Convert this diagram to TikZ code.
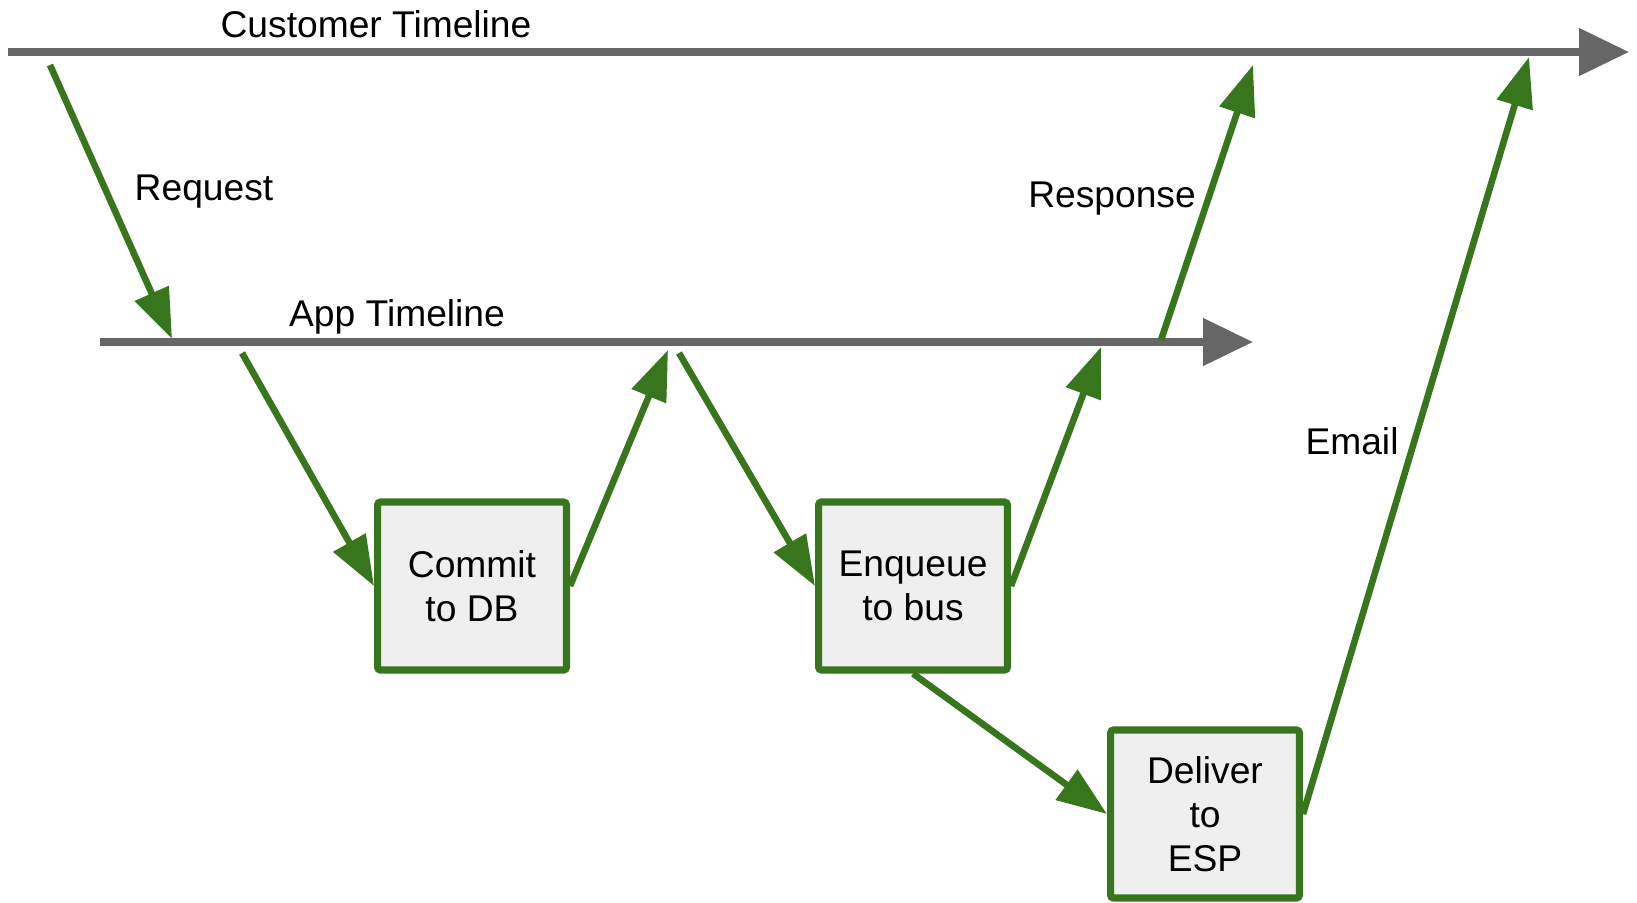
\documentclass[tikz,border=0pt]{standalone}
\usepackage{fontspec}
\setmainfont{Liberation Sans}
\usetikzlibrary{arrows.meta}
\definecolor{linegray}{HTML}{666666}
\definecolor{flowgreen}{HTML}{38761D}
\definecolor{boxfill}{HTML}{EFEFEF}
\begin{document}
\begin{tikzpicture}[x=0.5pt, y=-0.5pt]
	    \tikzset{timeline/.style={draw=linegray, line width=4pt, -{Triangle[length=25pt,width=23pt]}},
	             flow/.style={draw=flowgreen, line width=3.3pt, -{Triangle[length=25pt,width=18pt]}},
	             stepbox/.style={draw=flowgreen, fill=boxfill, line width=3.6pt, rounded corners=1.5pt, minimum width=94.4pt, minimum height=84pt, inner sep=0pt, align=center, font=\fontsize{18.6}{22}\selectfont},
	             lbl/.style={font=\fontsize{18.6}{22}\selectfont}}
	    \useasboundingbox (0,0) rectangle (1637,902);
	    \coordinate (custstart) at (8,52);
	    \coordinate (custend) at (1629,52);
	    \coordinate (appstart) at (100,342);
	    \coordinate (append) at (1253,342);
	    \coordinate (reqfrom) at (50,65);
	    \coordinate (reqto) at (172,339);
	    \coordinate (dbfrom) at (242,353);
	    \coordinate (dbdone) at (668,350);
	    \coordinate (busfrom) at (679,353);
	    \coordinate (busdone) at (1101,347);
	    \coordinate (respfrom) at (1161,340);
	    \coordinate (respto) at (1253,65);
	    \coordinate (mailto) at (1529,57);
	    \draw[timeline] (custstart) -- (custend);
	    \draw[timeline] (appstart) -- (append);
	    \node[lbl] (custlabel) at (376,24) {Customer Timeline};
	    \node[lbl] (applabel) at (397,317) {App Timeline};
	    \node[lbl] (reqlabel) at (204,192) {Request};
	    \node[lbl] (resplabel) at (1112,199) {Response};
	    \node[lbl] (maillabel) at (1352,441) {Email};
	    \node[stepbox] (commit) at (472,586) {Commit\\to DB};
	    \node[stepbox] (enqueue) at (913,586) {Enqueue\\to bus};
	    \node[stepbox] (deliver) at (1205,814) {Deliver\\to\\ESP};
	    \draw[flow] (reqfrom) -- (reqto);
	    \draw[flow] (dbfrom) -- (commit.west);
	    \draw[flow] (commit.east) -- (dbdone);
	    \draw[flow] (busfrom) -- (enqueue.west);
	    \draw[flow] (enqueue.east) -- (busdone);
	    \draw[flow] (respfrom) -- (respto);
	    \draw[flow] (enqueue.south) -- (deliver.west);
	    \draw[flow] (deliver.east) -- (mailto);
	    \end{tikzpicture}
\end{document}
